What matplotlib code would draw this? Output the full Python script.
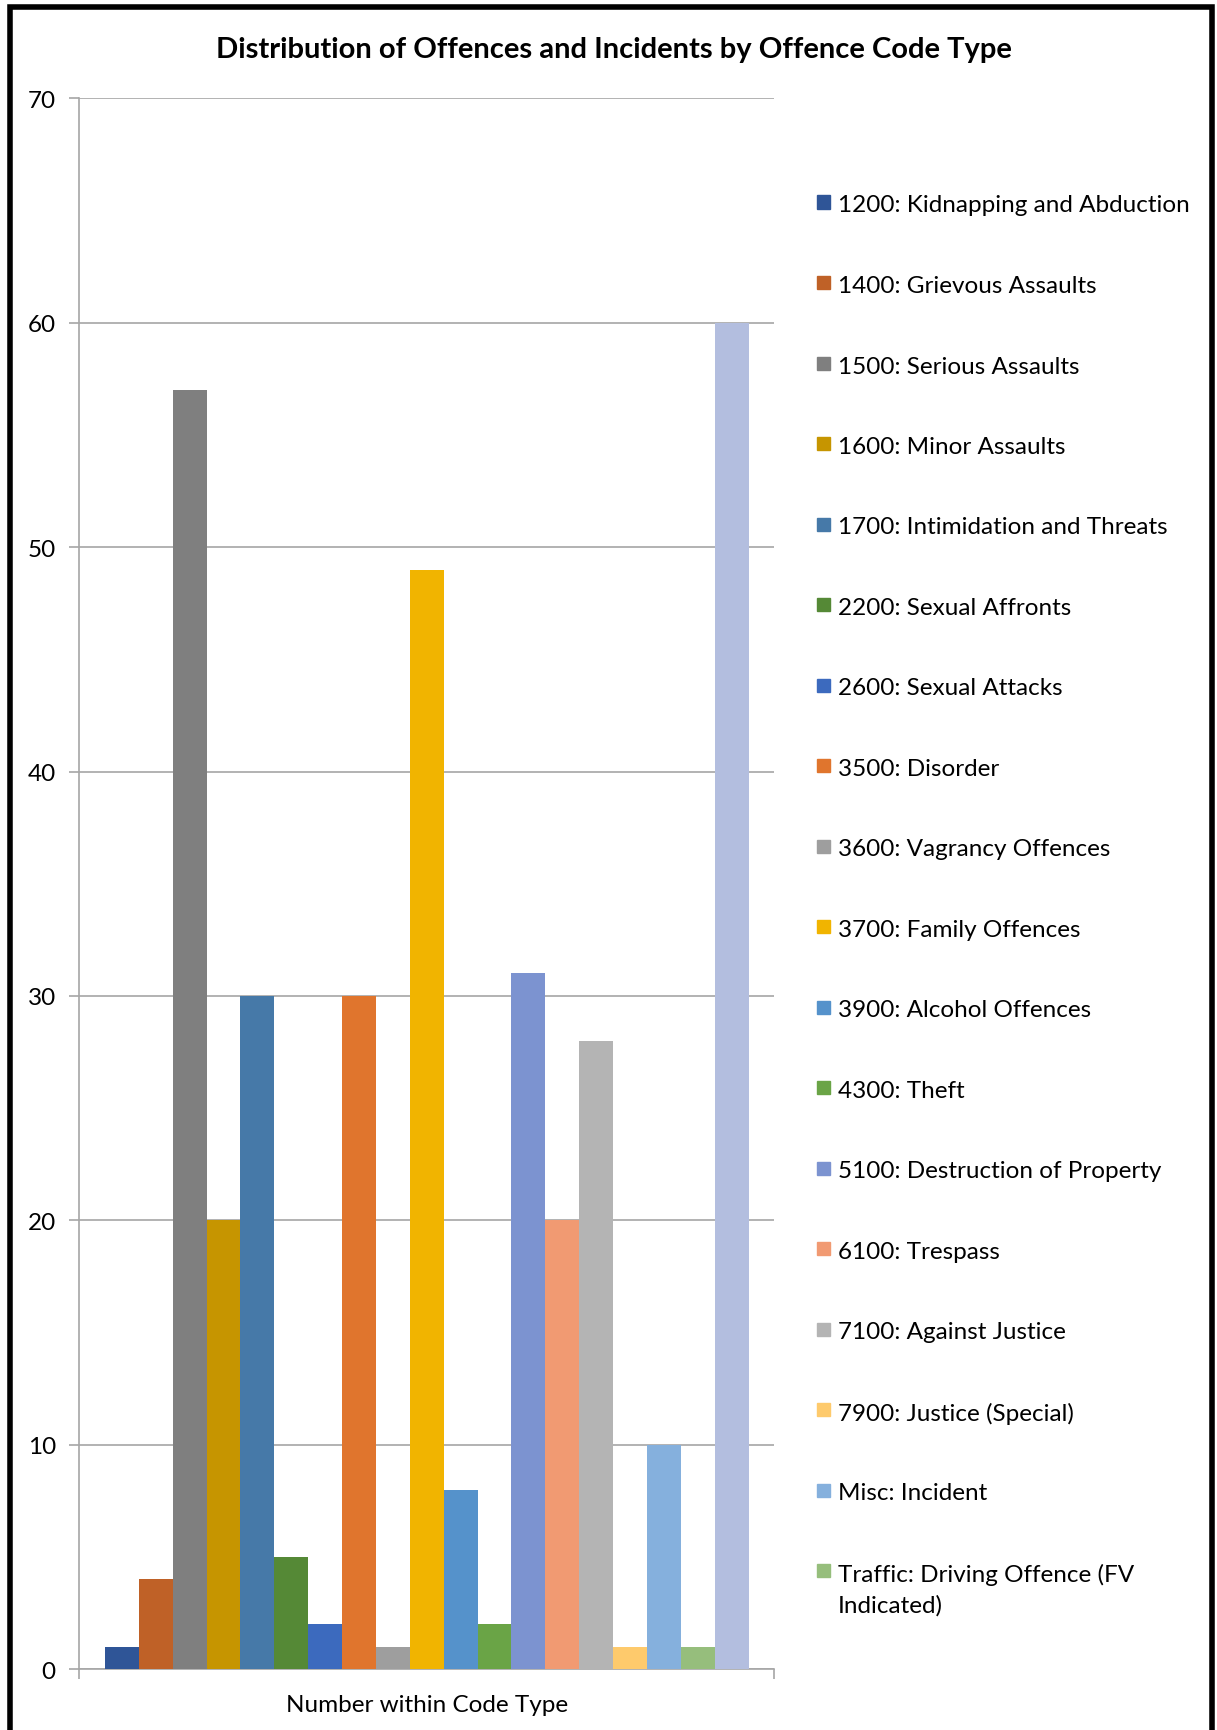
import matplotlib.pyplot as plt
from matplotlib.patches import Rectangle

plt.rcParams['font.family'] = ['Lato', 'DejaVu Sans']

labels = [
    "1200: Kidnapping and Abduction",
    "1400: Grievous Assaults",
    "1500: Serious Assaults",
    "1600: Minor Assaults",
    "1700: Intimidation and Threats",
    "2200: Sexual Affronts",
    "2600: Sexual Attacks",
    "3500: Disorder",
    "3600: Vagrancy Offences",
    "3700: Family Offences",
    "3900: Alcohol Offences",
    "4300: Theft",
    "5100: Destruction of Property",
    "6100: Trespass",
    "7100: Against Justice",
    "7900: Justice (Special)",
    "Misc: Incident",
    "Traffic: Driving Offence (FV\nIndicated)",
    None,  # last bar has no legend entry in the original
]
values = [1, 4, 57, 20, 30, 5, 2, 30, 1, 49, 8, 2, 31, 20, 28, 1, 10, 1, 60]
colors = [
    "#2F5597", "#BF6127", "#7F7F7F", "#C69500", "#4679A8", "#558936",
    "#3C6ABE", "#E0752D", "#9E9E9E", "#F1B400", "#5592CB", "#6AA446",
    "#7C93D0", "#F19A72", "#B4B4B4", "#FECA6C", "#85B0DD", "#96BE7C",
    "#B3BEDF",
]
category = "Number within Code Type"


def main():
    W, H = 1217, 1731
    fig = plt.figure(figsize=(W / 100, H / 100), dpi=100)
    ax = fig.add_axes([0.0653, 0.0352, 0.5707, 0.9074])

    n = len(values)
    w = 1 / (n + 1.5)  # excel gap width 150%
    for i, (v, c) in enumerate(zip(values, colors)):
        ax.bar((i - (n - 1) / 2) * w, v, width=w, color=c, zorder=3)

    ax.set_xlim(-0.5, 0.5)
    ax.set_ylim(0, 70)
    ax.set_yticks(range(0, 71, 10))
    ax.set_xticks([0])
    ax.set_xticklabels([category])
    ax.set_xticks([-0.5, 0.5], minor=True)
    ax.tick_params(axis='x', which='major', length=0, labelsize=17.5, pad=18)
    ax.tick_params(axis='x', which='minor', length=7, color="#A6A6A6", width=1.2)
    ax.tick_params(axis='y', length=7, color="#A6A6A6", width=1.2, labelsize=17.5, pad=10)
    ax.grid(axis='y', color="#A6A6A6", linewidth=1.2, zorder=0)
    for s in ['top', 'right']:
        ax.spines[s].set_visible(False)
    for s in ['left', 'bottom']:
        ax.spines[s].set_color("#A6A6A6")
        ax.spines[s].set_linewidth(1.2)

    # legend, excel style: one entry per row, marker next to first text line
    sq = 13
    for i, (lab, c) in enumerate(zip(labels, colors)):
        if lab is None:
            continue
        yc = 203 + 80.5 * i
        fig.add_artist(Rectangle((817 / W, 1 - (yc + sq / 2) / H), sq / W, sq / H,
                                 transform=fig.transFigure, color=c))
        fig.text(838 / W, 1 - (yc - 7.5) / H, lab, ha='left', va='top',
                 fontsize=17.5, linespacing=1.5)

    fig.text(0.5045, 0.9713, "Distribution of Offences and Incidents by Offence Code Type",
             ha='center', va='center', fontsize=21, fontweight='bold')

    fig.add_artist(Rectangle((10 / W, -0.1), 1202 / W, 1.1 - 8 / H,
                             transform=fig.transFigure, fill=False,
                             edgecolor='black', linewidth=4))

    fig.savefig("out.png", dpi=100)


if __name__ == "__main__":
    main()
